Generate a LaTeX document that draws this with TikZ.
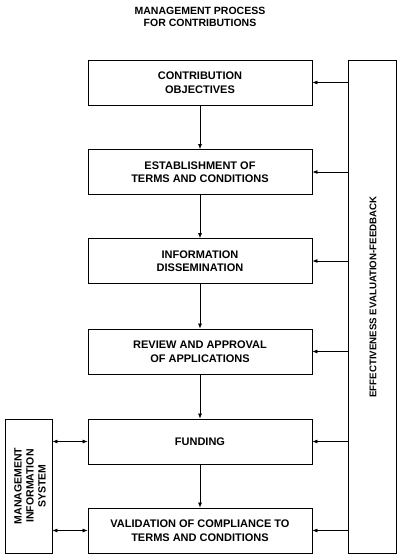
\documentclass[tikz,border=0pt]{standalone}
\usepackage{fontspec}
\setmainfont{Liberation Sans}
\usetikzlibrary{arrows.meta}
\begin{document}
\begin{tikzpicture}[x=1pt,y=-1pt,
  every node/.style={font=\bfseries},
  stepbox/.style={draw,line width=0.8pt,minimum width=224pt,minimum height=45pt,align=center,inner sep=0pt,
    font=\fontsize{11}{13.5}\selectfont\bfseries},
  sidebox/.style={draw,line width=0.8pt,inner sep=0pt},
  conn/.style={line width=0.7pt,-{Latex[length=5pt,width=4pt]}},
  dconn/.style={line width=0.7pt,{Latex[length=5pt,width=4pt]}-{Latex[length=5pt,width=4pt]}}
]
\useasboundingbox (0,0) rectangle (400,559);
\node[align=center,font=\fontsize{10.5}{12}\selectfont\bfseries] (title) at (200,17) {MANAGEMENT PROCESS\\FOR CONTRIBUTIONS};
\node[stepbox] (b1) at (200,82.5) {CONTRIBUTION\\OBJECTIVES};
\node[stepbox] (b2) at (200,172) {ESTABLISHMENT OF\\TERMS AND CONDITIONS};
\node[stepbox] (b3) at (200,261) {INFORMATION\\DISSEMINATION};
\node[stepbox] (b4) at (200,351.5) {REVIEW AND APPROVAL\\OF APPLICATIONS};
\node[stepbox] (b5) at (200,441.5) {FUNDING};
\node[stepbox] (b6) at (200,530.5) {VALIDATION OF COMPLIANCE TO\\TERMS AND CONDITIONS};
\node[sidebox,minimum width=48pt,minimum height=493pt] (fb) at (372,306.5) {};
\node[rotate=90,font=\fontsize{9.7}{12}\selectfont\bfseries] (fbt) at (373,297) {EFFECTIVENESS EVALUATION-FEEDBACK};
\node[sidebox,minimum width=47pt,minimum height=134pt] (mis) at (28.5,486) {};
\node[rotate=90,align=center,font=\fontsize{10.5}{12}\selectfont\bfseries] (mist) at (30,486) {MANAGEMENT\\INFORMATION\\SYSTEM};
\draw[conn] (b1) -- (b2);
\draw[conn] (b2) -- (b3);
\draw[conn] (b3) -- (b4);
\draw[conn] (b4) -- (b5);
\draw[conn] (b5) -- (b6);
\foreach \b in {b1,b2,b3,b4,b5,b6}
  \draw[conn] (fb.west |- \b.east) -- (\b.east);
\draw[dconn] (mis.east |- b5.west) -- (b5.west);
\draw[dconn] (mis.east |- b6.west) -- (b6.west);
\end{tikzpicture}
\end{document}
